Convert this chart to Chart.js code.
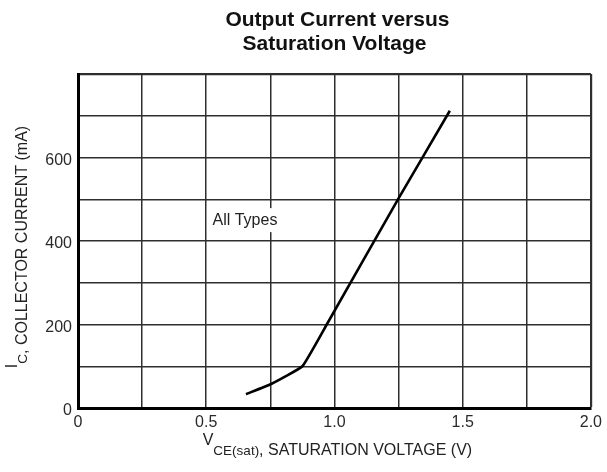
<!DOCTYPE html>
<html>
<head>
<meta charset="utf-8">
<script src="https://cdn.jsdelivr.net/npm/chart.js@4.4.1/dist/chart.umd.min.js"></script>
<style>
  html, body { margin: 0; padding: 0; background: #fff; }
  #chart { display: block; }
</style>
</head>
<body>
<canvas id="chart" width="607" height="472"></canvas>
<script>
// Curva (VCE(sat) em V, IC em mA)
var vceSat = [0.655, 0.755, 0.875, 0.97, 1.25, 1.45];
var icCurrent = [33, 58, 100, 200, 502, 712];

// Rótulos dos eixos
var xTickLabels = [0, 0.5, 1.0, 1.5, 2.0];
var yTickLabels = [0, 200, 400, 600];

var titleLines = ['Output Current versus', 'Saturation Voltage'];
var noteText = 'All Types';
var notePos = { x: 0.651, y: 450 };

var FONT = "'Liberation Sans', Arial, Helvetica, sans-serif";

var points = vceSat.map(function(v, i) {
    return { x: v, y: icCurrent[i] };
});

// Desenha texto com partes subscritas, centrado em cx
function drawParts(ctx, parts, cx, baseY) {
    var total = 0;
    parts.forEach(function(p) {
        ctx.font = p.font;
        p.w = ctx.measureText(p.text).width;
        total += p.w;
    });
    var x = cx - total / 2;
    ctx.textAlign = 'left';
    ctx.textBaseline = 'alphabetic';
    parts.forEach(function(p) {
        ctx.font = p.font;
        ctx.fillText(p.text, x, baseY + p.dy);
        x += p.w;
    });
}

var textPlugin = {
    id: 'textPlugin',
    beforeDatasetsDraw: function(chart) {
        var ctx = chart.ctx;
        var xs = chart.scales.x, ys = chart.scales.y;
        var px = xs.getPixelForValue(notePos.x);
        var py = ys.getPixelForValue(notePos.y);
        ctx.save();
        ctx.fillStyle = '#fff';
        ctx.fillRect(px - 38, py - 12, 76, 24);
        ctx.fillStyle = '#222';
        ctx.font = '16px ' + FONT;
        ctx.textAlign = 'center';
        ctx.textBaseline = 'middle';
        ctx.fillText(noteText, px, py);
        ctx.restore();
    },
    afterDraw: function(chart) {
        var ctx = chart.ctx;
        var area = chart.chartArea;
        var cx = (area.left + area.right) / 2;
        ctx.save();

        // título
        ctx.fillStyle = '#111';
        ctx.font = 'bold 21px ' + FONT;
        ctx.textAlign = 'center';
        ctx.textBaseline = 'alphabetic';
        ctx.fillText(titleLines[0], cx + 3, 26);
        ctx.fillText(titleLines[1], cx, 50);

        // título do eixo x
        ctx.fillStyle = '#222';
        drawParts(ctx, [
            { text: 'V', font: '16px ' + FONT, dy: -10 },
            { text: 'CE(sat)', font: '13.5px ' + FONT, dy: 0 },
            { text: ', SATURATION VOLTAGE (V)', font: '16px ' + FONT, dy: 0 }
        ], cx + 3, 455);

        // título do eixo y
        ctx.translate(27, 247);
        ctx.rotate(-Math.PI / 2);
        drawParts(ctx, [
            { text: 'I', font: '16px ' + FONT, dy: -10 },
            { text: 'C', font: '13.5px ' + FONT, dy: 0 },
            { text: ', COLLECTOR CURRENT (mA)', font: '16px ' + FONT, dy: 0 }
        ], 0, 0);
        ctx.restore();
    }
};

function edgeWidth(scale) {
    return function(c) {
        return c.tick && c.tick.value === scale.max ? 2.2 : 1.5;
    };
}

var ctx = document.getElementById('chart');
new Chart(ctx, {
    type: 'line',
    data: {
        datasets: [{
            data: points,
            borderColor: '#000',
            borderWidth: 2.6,
            pointRadius: 0,
            tension: 0.1,
            fill: false
        }]
    },
    options: {
        responsive: false,
        animation: false,
        layout: { padding: { top: 74, right: 12, left: 0, bottom: 0 } },
        plugins: {
            legend: { display: false },
            title: { display: false },
            tooltip: { enabled: false }
        },
        scales: {
            x: {
                type: 'linear',
                min: 0,
                max: 2,
                grid: { color: '#2e2e2e', lineWidth: edgeWidth({ max: 2 }), drawTicks: false },
                border: { color: '#000', width: 3 },
                ticks: {
                    stepSize: 0.25,
                    padding: 5,
                    color: '#2a2a2a',
                    font: { family: FONT, size: 16 },
                    maxRotation: 0,
                    autoSkip: false,
                    callback: function(v) {
                        var i = xTickLabels.indexOf(v);
                        if (i < 0) return '';
                        return i === 0 ? '0' : xTickLabels[i].toFixed(1);
                    }
                },
                afterFit: function(s) { s.height = 64; }
            },
            y: {
                min: 0,
                max: 800,
                grid: { color: '#2e2e2e', lineWidth: edgeWidth({ max: 800 }), drawTicks: false },
                border: { color: '#000', width: 3 },
                ticks: {
                    stepSize: 100,
                    padding: 6,
                    labelOffset: 3,
                    color: '#2a2a2a',
                    font: { family: FONT, size: 16 },
                    autoSkip: false,
                    callback: function(v) {
                        return yTickLabels.indexOf(v) >= 0 ? String(v) : '';
                    }
                },
                afterFit: function(s) { s.width = 78; }
            }
        }
    },
    plugins: [textPlugin]
});
</script>
</body>
</html>
